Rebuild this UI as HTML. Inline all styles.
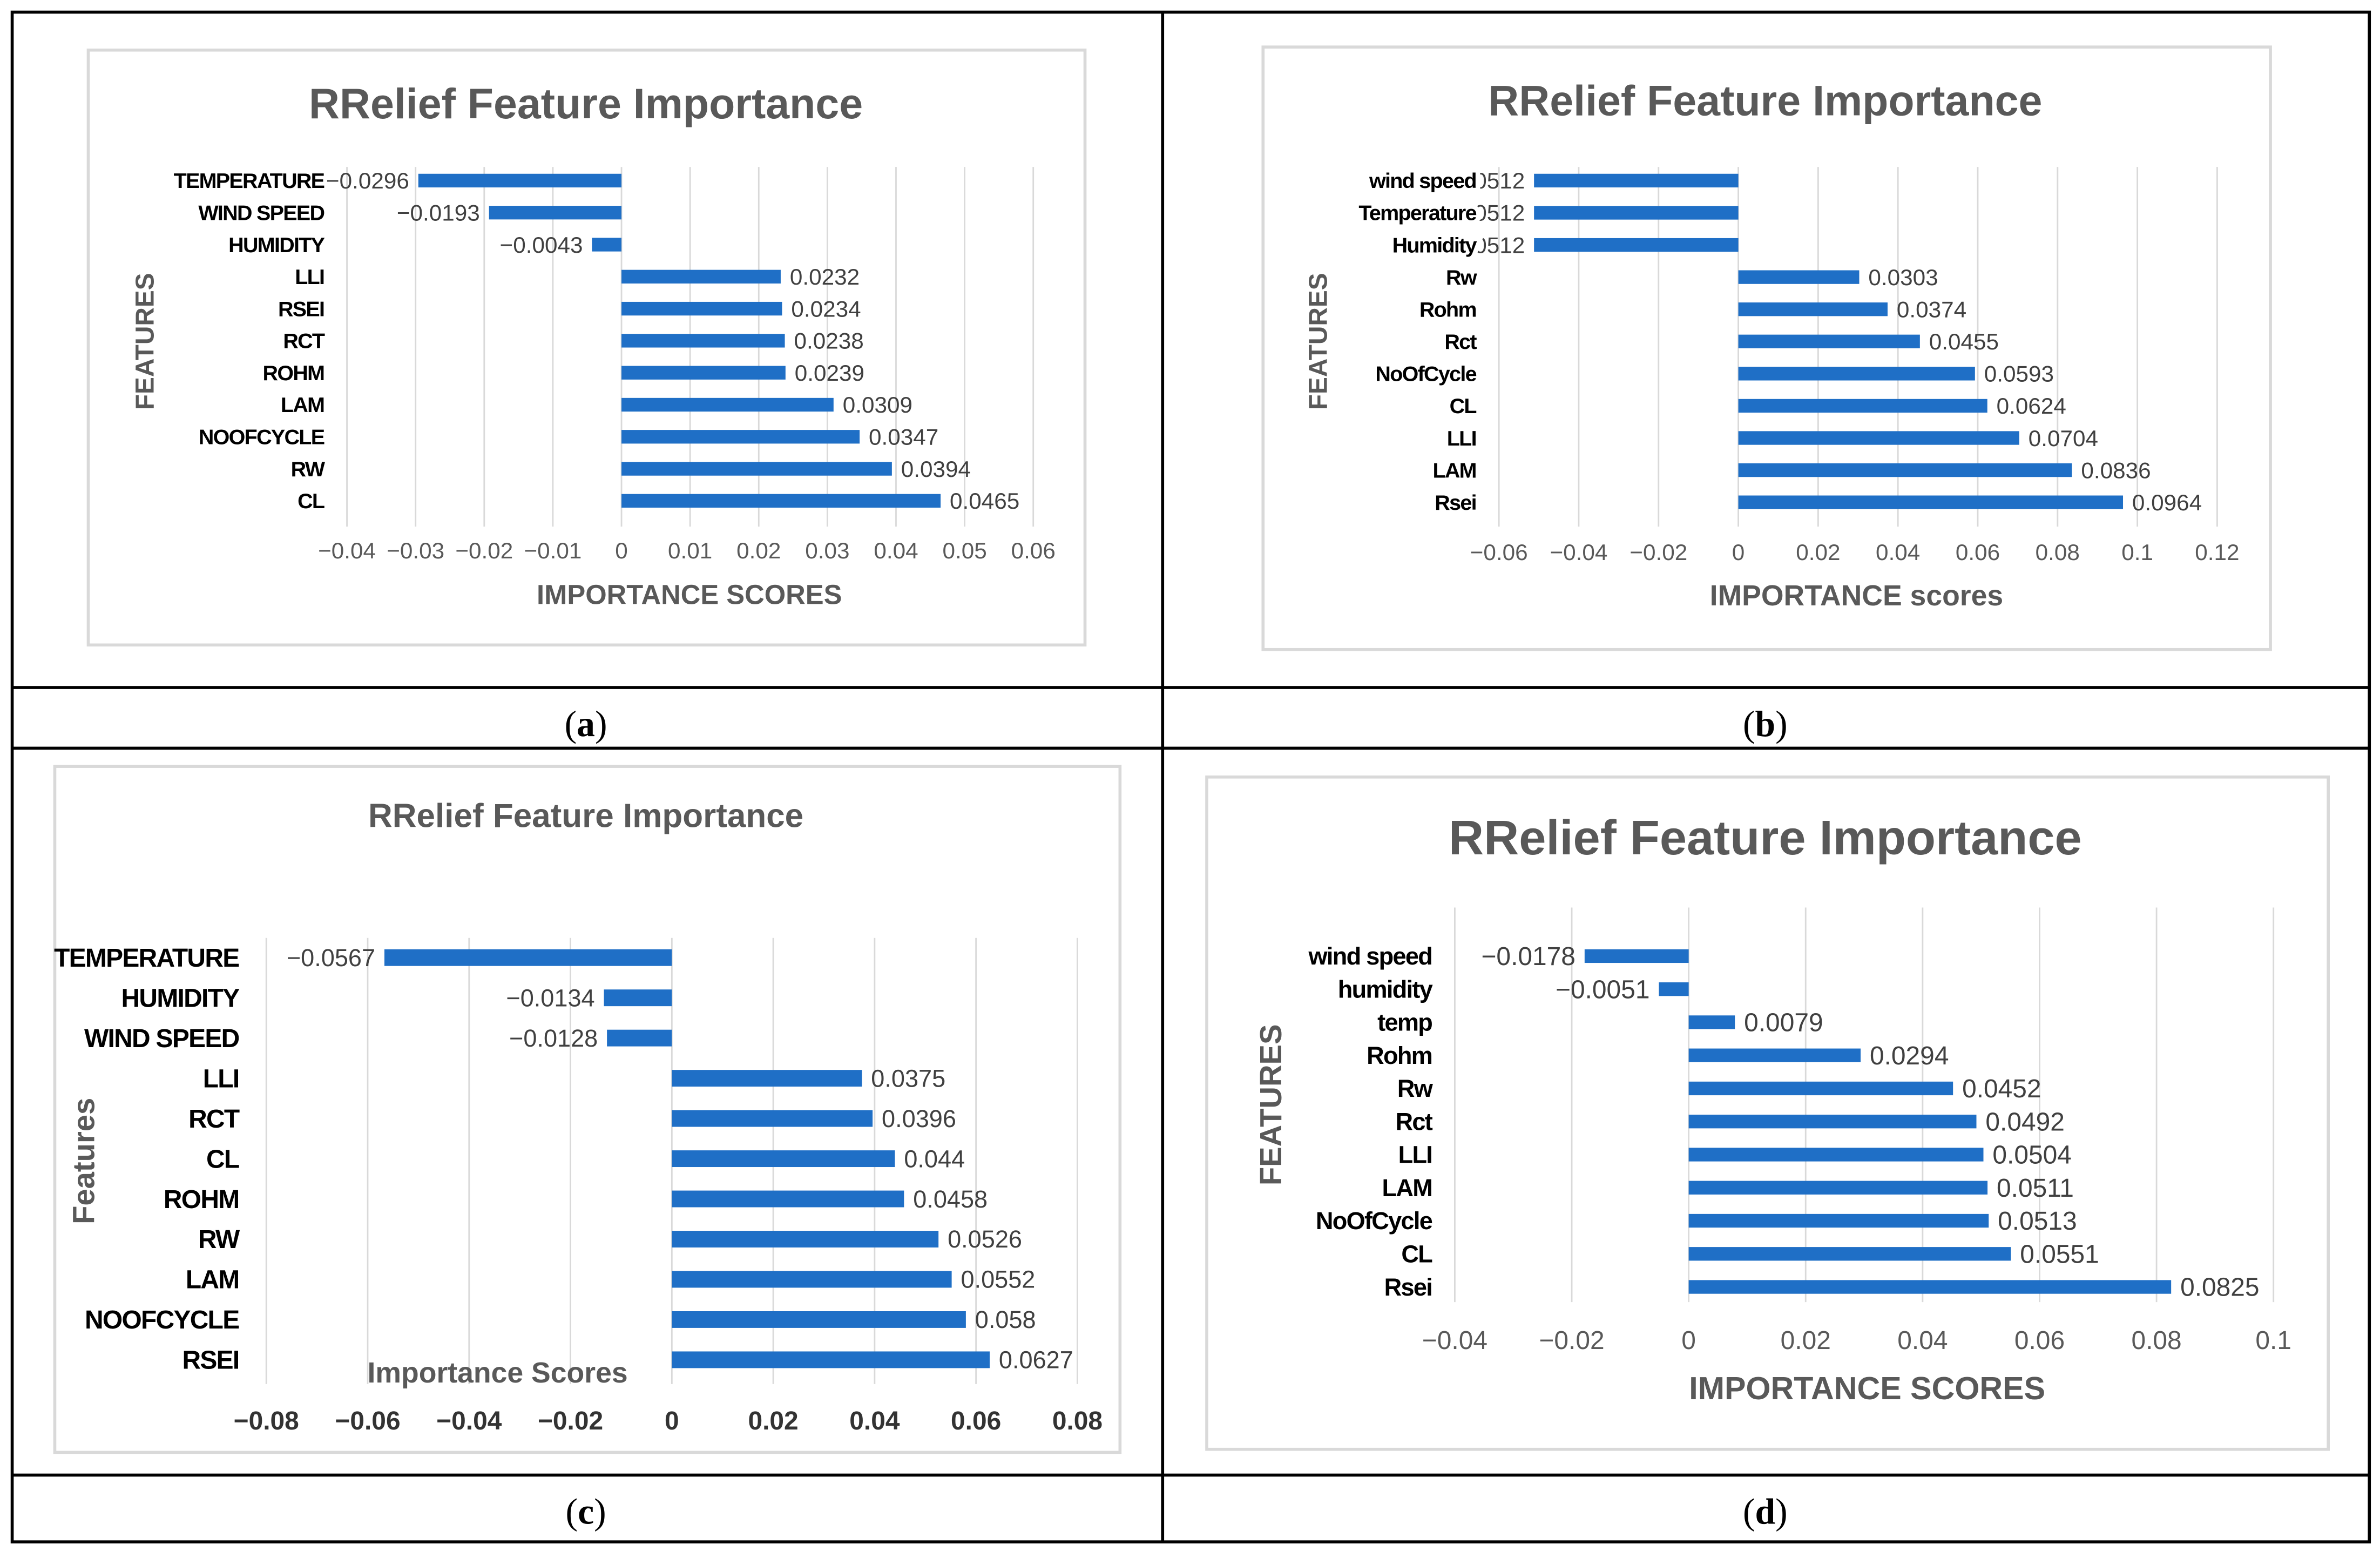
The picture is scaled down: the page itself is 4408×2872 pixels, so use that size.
<!DOCTYPE html>
<html><head><meta charset="utf-8"><style>
html,body{margin:0;padding:0;background:#fff;}
svg{display:block;}
</style></head><body>
<svg id="fig" width="4408" height="2872" viewBox="0 0 1564 1022" preserveAspectRatio="none" xmlns="http://www.w3.org/2000/svg">
<g stroke="#000" stroke-width="2" fill="none">
<rect x="8" y="8" width="1549" height="1008"/>
<line x1="764" y1="8" x2="764" y2="1016"/>
<line x1="8" y1="453" x2="1557" y2="453"/>
<line x1="8" y1="493" x2="1557" y2="493"/>
<line x1="8" y1="972" x2="1557" y2="972"/>
</g>
<g font-family="Liberation Serif, serif" font-size="24" text-anchor="middle" fill="#000">
<text x="385" y="485">(<tspan font-weight="bold">a</tspan>)</text>
<text x="1160" y="485">(<tspan font-weight="bold">b</tspan>)</text>
<text x="385" y="1004">(<tspan font-weight="bold">c</tspan>)</text>
<text x="1160" y="1004">(<tspan font-weight="bold">d</tspan>)</text>
</g>
</svg>
<script>
const catsA=["TEMPERATURE","WIND SPEED","HUMIDITY","LLI","RSEI","RCT","ROHM","LAM","NOOFCYCLE","RW","CL"];
const valsA=[-0.0296,-0.0193,-0.0043,0.0232,0.0234,0.0238,0.0239,0.0309,0.0347,0.0394,0.0465];
const ticksA=[-0.04,-0.03,-0.02,-0.01,0,0.01,0.02,0.03,0.04,0.05,0.06];
const catsB=["wind speed","Temperature","Humidity","Rw","Rohm","Rct","NoOfCycle","CL","LLI","LAM","Rsei"];
const valsB=[-0.0512,-0.0512,-0.0512,0.0303,0.0374,0.0455,0.0593,0.0624,0.0704,0.0836,0.0964];
const ticksB=[-0.06,-0.04,-0.02,0,0.02,0.04,0.06,0.08,0.1,0.12];
const catsC=["TEMPERATURE","HUMIDITY","WIND SPEED","LLI","RCT","CL","ROHM","RW","LAM","NOOFCYCLE","RSEI"];
const valsC=[-0.0567,-0.0134,-0.0128,0.0375,0.0396,0.044,0.0458,0.0526,0.0552,0.058,0.0627];
const ticksC=[-0.08,-0.06,-0.04,-0.02,0,0.02,0.04,0.06,0.08];
const catsD=["wind speed","humidity","temp","Rohm","Rw","Rct","LLI","LAM","NoOfCycle","CL","Rsei"];
const valsD=[-0.0178,-0.0051,0.0079,0.0294,0.0452,0.0492,0.0504,0.0511,0.0513,0.0551,0.0825];
const ticksD=[-0.04,-0.02,0,0.02,0.04,0.06,0.08,0.1];

const NS="http://www.w3.org/2000/svg";
const svg=document.getElementById("fig");
function mk(tag,parent,attrs,txt){const e=document.createElementNS(NS,tag);for(const k in attrs)e.setAttribute(k,attrs[k]);if(txt!==undefined)e.textContent=txt;parent.appendChild(e);return e;}
function fmt(v){const s=String(Math.abs(v));return (v<0?"\u2212":"")+s;}

const layouts={
 a:{frame:[58,33,655,392],title:"RRelief Feature Importance",tx:385,ty:78,tfs:28,x0:228,x1:679,gy0:110,gy1:347,r0:119,r1:330,bh:9,lx:213,lfs:14,tky:368,tkfs:15,tkc:"#595959",tkw:"normal",xt:"IMPORTANCE SCORES",xtx:453,xty:398,xtfs:18,yt:"FEATURES",ytx:101,yty:225,ytfs:17,vfs:15},
 b:{frame:[830,31,662,397],title:"RRelief Feature Importance",tx:1160,ty:76,tfs:28,x0:985,x1:1457,gy0:110,gy1:347,r0:119,r1:331,bh:9,lx:970,lfs:14,tky:369,tkfs:15,tkc:"#595959",tkw:"normal",xt:"IMPORTANCE scores",xtx:1220,xty:399,xtfs:19,yt:"FEATURES",ytx:872,yty:225,ytfs:17,vfs:15},
 c:{frame:[36,505,700,452],title:"RRelief Feature Importance",tx:385,ty:545,tfs:22,x0:175,x1:708,gy0:618,gy1:912,r0:631,r1:896,bh:11,lx:157,lfs:17,tky:942,tkfs:17,tkc:"#333",tkw:"bold",xt:"Importance Scores",xtx:327,xty:911,xtfs:19,yt:"Features",ytx:62,yty:765,ytfs:20,vfs:16},
 d:{frame:[793,512,737,443],title:"RRelief Feature Importance",tx:1160,ty:563,tfs:32,x0:956,x1:1494,gy0:598,gy1:858,r0:630,r1:848,bh:9,lx:941,lfs:16,tky:889,tkfs:17,tkc:"#595959",tkw:"normal",xt:"IMPORTANCE SCORES",xtx:1227,xty:922,xtfs:21,yt:"FEATURES",ytx:842,yty:728,ytfs:20,vfs:17}
};

function panel(id,cats,vals,ticks){
 const L=layouts[id];
 const g=mk("g",svg,{});
 
 
 const tmin=ticks[0],tmax=ticks[ticks.length-1];
 const xs=v=>L.x0+(v-tmin)/(tmax-tmin)*(L.x1-L.x0);
 const ys=i=>L.r0+i*(L.r1-L.r0)/(cats.length-1);
 const fr=mk("rect",g,{x:L.frame[0],y:L.frame[1],width:L.frame[2],height:L.frame[3],fill:"#fff",stroke:"#d9d9d9","stroke-width":2});
 
 
 const t=mk("text",g,{x:L.tx,y:L.ty,"text-anchor":"middle","font-family":"Liberation Sans Narrow, Liberation Sans, sans-serif","font-weight":"bold","font-size":L.tfs,fill:"#595959"},L.title);
 
 
 ticks.forEach(tv=>{
  const gl=mk("line",g,{x1:xs(tv),x2:xs(tv),y1:L.gy0,y2:L.gy1,stroke:"#d9d9d9","stroke-width":1});
  
  
  const tl=mk("text",g,{x:xs(tv),y:L.tky,"text-anchor":"middle","font-family":"Liberation Sans Narrow, Liberation Sans, sans-serif","font-size":L.tkfs,"font-weight":L.tkw,fill:L.tkc},fmt(tv));
  
  
 });
 const zx=xs(0);
 vals.forEach((v,i)=>{
  const y=ys(i);
  const x=Math.min(xs(v),zx), w=Math.abs(xs(v)-zx);
  const b=mk("rect",g,{x:x,y:y-L.bh/2,width:w,height:L.bh,fill:"#1f6fc6"});
  
  
  const vl=mk("text",g,{x:v<0?xs(v)-6:xs(v)+6,y:y+L.vfs*0.35,"text-anchor":v<0?"end":"start","font-family":"Liberation Sans Narrow, Liberation Sans, sans-serif","font-size":L.vfs,fill:"#404040"},fmt(v));
  
  
 });
 cats.forEach((c,i)=>{
  const attrs={x:L.lx,y:ys(i)+L.lfs*0.35,"text-anchor":"end","font-family":"Liberation Sans Narrow, Liberation Sans, sans-serif","font-weight":"bold","font-size":L.lfs,fill:"#000","letter-spacing":"-0.6"};
  if(id==="b"){attrs.stroke="#fff";attrs["stroke-width"]=6;attrs["paint-order"]="stroke";}
  const cl=mk("text",g,attrs,c);
  
  
 });
 const xt=mk("text",g,{x:L.xtx,y:L.xty,"text-anchor":"middle","font-family":"Liberation Sans Narrow, Liberation Sans, sans-serif","font-size":L.xtfs,"font-weight":"bold",fill:"#595959"},L.xt);
 
 
 const yt=mk("text",g,{x:L.ytx,y:L.yty,"text-anchor":"middle","font-family":"Liberation Sans, sans-serif","font-weight":"bold","font-size":L.ytfs,fill:"#595959",transform:"rotate(-90 "+L.ytx+" "+L.yty+")"},L.yt);
 
 
}
panel("a",catsA,valsA,ticksA);
panel("b",catsB,valsB,ticksB);
panel("c",catsC,valsC,ticksC);
panel("d",catsD,valsD,ticksD);
</script>
</body></html>
